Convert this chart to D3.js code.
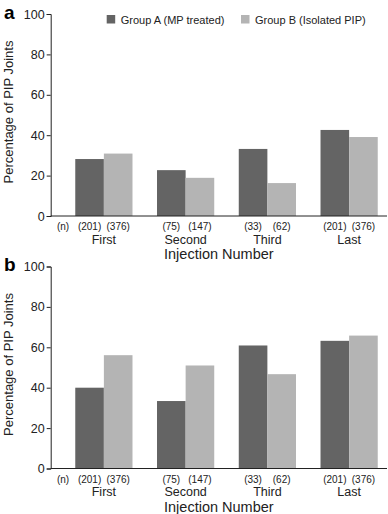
<!DOCTYPE html>
<html>
<head>
<meta charset="utf-8">
<script src="https://cdn.jsdelivr.net/npm/d3@7"></script>
<style>
  body { margin: 0; background: #fff; }
  svg { display: block; font-family: "Liberation Sans", Arial, Helvetica, sans-serif; }
</style>
</head>
<body>
<div id="chart"></div>
<script>
var categories = ["First", "Second", "Third", "Last"];
var groups = ["Group A (MP treated)", "Group B (Isolated PIP)"];
var countsA = ["(201)", "(75)", "(33)", "(201)"];
var countsB = ["(376)", "(147)", "(62)", "(376)"];
var panelA_groupA = [28.2, 22.7, 33.2, 42.6];
var panelA_groupB = [30.9, 18.9, 16.3, 39.1];
var panelB_groupA = [40.0, 33.4, 60.9, 63.2];
var panelB_groupB = [56.1, 51.0, 46.7, 65.8];
var yTicks = [0, 20, 40, 60, 80, 100];

var colors = ["#646464", "#b4b4b4"];

var width = 388, height = 514;

var svg = d3.select("#chart").append("svg")
    .attr("width", width)
    .attr("height", height);

var x = d3.scaleBand()
    .domain(categories)
    .range([63, 390])
    .paddingInner(0.3)
    .paddingOuter(0.15);

var xSub = d3.scaleBand()
    .domain([0, 1])
    .range([0, x.bandwidth()]);

var axisLeft = 50.7, axisRight = 387;

function drawPanel(top, valsA, valsB, letter, legend) {
  var y = d3.scaleLinear().domain([0, 100]).range([top + 202, top]);
  var g = svg.append("g");

  // panel letter
  g.append("text")
    .attr("x", 4)
    .attr("y", top + 4.5)
    .style("font-size", "19px")
    .style("font-weight", "bold")
    .text(letter);

  var yAxis = d3.axisLeft(y).tickValues(yTicks).tickSize(4).tickPadding(2);
  var ya = g.append("g")
    .attr("transform", "translate(" + axisLeft + ",0)")
    .call(yAxis);
  ya.select(".domain").attr("stroke", "#222");
  ya.selectAll(".tick line").attr("stroke", "#222");
  ya.selectAll(".tick text")
    .style("font-size", "12.5px")
    .attr("fill", "#222")
    .attr("font-family", null);

  // bars
  var rows = categories.map(function(c, i) {
    return { cat: c, vals: [valsA[i], valsB[i]] };
  });

  g.selectAll(".grp")
    .data(rows)
    .enter().append("g")
    .attr("transform", function(d) { return "translate(" + x(d.cat) + ",0)"; })
    .selectAll("rect")
    .data(function(d) { return d.vals; })
    .enter().append("rect")
    .attr("x", function(d, i) { return xSub(i); })
    .attr("y", function(d) { return y(d); })
    .attr("width", xSub.bandwidth())
    .attr("height", function(d) { return y(0) - y(d); })
    .attr("fill", function(d, i) { return colors[i]; });

  // x axis line
  g.append("line")
    .attr("x1", axisLeft)
    .attr("x2", axisRight)
    .attr("y1", y(0))
    .attr("y2", y(0))
    .attr("stroke", "#222");

  // n labels
  g.append("text")
    .attr("x", x.range()[0])
    .attr("y", y(0) + 14)
    .attr("text-anchor", "middle")
    .style("font-size", "10px")
    .attr("fill", "#222")
    .text("(n)");

  categories.forEach(function(c, i) {
    [countsA[i], countsB[i]].forEach(function(t, j) {
      g.append("text")
        .attr("x", x(c) + xSub(j) + xSub.bandwidth() / 2)
        .attr("y", y(0) + 14)
        .attr("text-anchor", "middle")
        .style("font-size", "10px")
        .attr("fill", "#222")
        .text(t);
    });
    g.append("text")
      .attr("x", x(c) + x.bandwidth() / 2)
      .attr("y", y(0) + 27.5)
      .attr("text-anchor", "middle")
      .style("font-size", "12.5px")
      .attr("fill", "#222")
      .text(c);
  });

  g.append("text")
    .attr("x", (axisLeft + axisRight) / 2)
    .attr("y", y(0) + 43)
    .attr("text-anchor", "middle")
    .style("font-size", "14.5px")
    .attr("fill", "#222")
    .text("Injection Number");

  g.append("text")
    .attr("transform", "translate(13," + (top + 98) + ") rotate(-90)")
    .attr("text-anchor", "middle")
    .style("font-size", "13px")
    .attr("fill", "#222")
    .text("Percentage of PIP Joints");

  if (legend) {
    var lx = [106.7, 241];
    groups.forEach(function(name, i) {
      g.append("rect")
        .attr("x", lx[i])
        .attr("y", top + 1)
        .attr("width", 8.5)
        .attr("height", 8.5)
        .attr("fill", colors[i]);
      g.append("text")
        .attr("x", lx[i] + 14)
        .attr("y", top + 9.5)
        .style("font-size", "11px")
        .attr("fill", "#222")
        .text(name);
    });
  }
}

drawPanel(14, panelA_groupA, panelA_groupB, "a", true);
drawPanel(266.5, panelB_groupA, panelB_groupB, "b", false);
</script>
</body>
</html>
